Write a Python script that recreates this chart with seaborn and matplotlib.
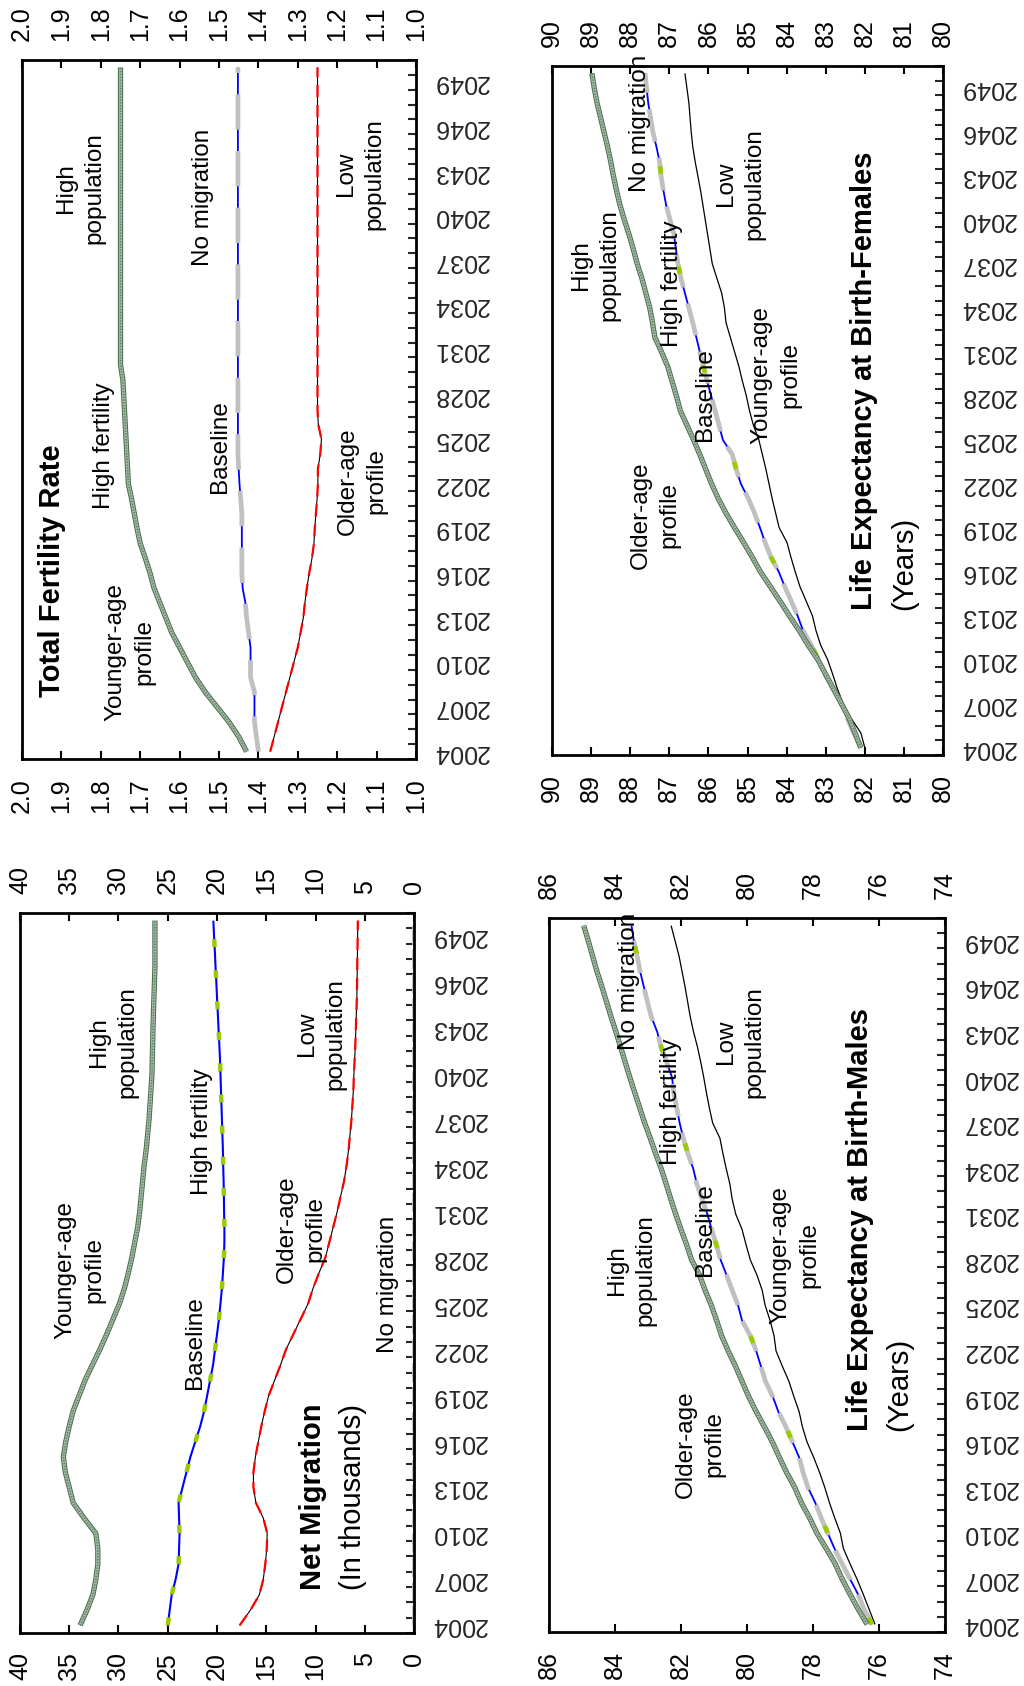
import matplotlib
matplotlib.use("Agg")
import matplotlib.pyplot as plt
import seaborn as sns
from matplotlib import patheffects as pe

# ---------------- data ----------------
YEARS = list(range(2004, 2051))

tfr_high = [1.43, 1.45, 1.475, 1.505, 1.535, 1.56, 1.58, 1.60, 1.62, 1.635, 1.65, 1.665, 1.675,
            1.687, 1.70, 1.708, 1.715, 1.722, 1.73, 1.732, 1.734, 1.736, 1.738, 1.74, 1.742, 1.744] + [1.75] * 21
tfr_base = [1.40, 1.405, 1.41, 1.41, 1.41, 1.42, 1.42, 1.42, 1.425, 1.43, 1.433, 1.44,
            1.442, 1.442, 1.442, 1.442, 1.442, 1.445, 1.448, 1.45] + [1.452] * 27
tfr_low = [1.37, 1.36, 1.35, 1.34, 1.33, 1.32, 1.31, 1.30, 1.293, 1.286, 1.282, 1.277, 1.271,
           1.264, 1.259, 1.257, 1.254, 1.251, 1.249, 1.249, 1.243, 1.24, 1.248] + [1.25] * 24

lef_high = [82.1, 82.25, 82.4, 82.6, 82.8, 83.0, 83.2, 83.45, 83.68, 83.93, 84.17, 84.42, 84.67,
            84.88, 85.1, 85.33, 85.55, 85.75, 85.92, 86.07, 86.22, 86.38, 86.55, 86.72, 86.82,
            86.93, 87.04, 87.2, 87.37, 87.43, 87.5, 87.6, 87.7, 87.82, 87.92, 88.03, 88.15,
            88.26, 88.35, 88.43, 88.5, 88.58, 88.67, 88.76, 88.85, 88.92, 88.98]
lef_base = [82.1, 82.28, 82.45, 82.58, 82.8, 83.02, 83.18, 83.37, 83.58, 83.72, 83.88, 84.05,
            84.2, 84.4, 84.55, 84.68, 84.82, 84.98, 85.17, 85.29, 85.39, 85.63, 85.73, 85.83,
            85.93, 86.03, 86.13, 86.22, 86.31, 86.4, 86.5, 86.6, 86.7, 86.78, 86.83, 86.88,
            86.98, 87.08, 87.15, 87.21, 87.25, 87.33, 87.42, 87.48, 87.54, 87.58, 87.62]
lef_low = [82.0, 82.1, 82.35, 82.55, 82.7, 82.82, 82.95, 83.13, 83.25, 83.34, 83.5, 83.66,
           83.78, 83.89, 83.99, 84.19, 84.28, 84.37, 84.45, 84.53, 84.62, 84.71, 84.85, 84.95,
           85.03, 85.13, 85.22, 85.33, 85.44, 85.55, 85.59, 85.66, 85.78, 85.9, 85.96, 86.02,
           86.08, 86.14, 86.2, 86.27, 86.34, 86.4, 86.44, 86.47, 86.5, 86.55, 86.6]

lem_high = [76.36, 76.63, 76.88, 77.12, 77.33, 77.6, 77.88, 78.1, 78.35, 78.55, 78.8, 79.02,
            79.23, 79.47, 79.72, 79.95, 80.15, 80.35, 80.57, 80.77, 80.92, 81.08, 81.27, 81.44,
            81.68, 81.83, 82.0, 82.16, 82.31, 82.45, 82.6, 82.77, 82.93, 83.1, 83.25, 83.4,
            83.55, 83.69, 83.83, 83.97, 84.12, 84.26, 84.4, 84.55, 84.68, 84.81, 84.95]
lem_base = [76.21, 76.45, 76.64, 76.88, 77.12, 77.35, 77.55, 77.75, 77.93, 78.15, 78.3, 78.42,
            78.62, 78.82, 79.05, 79.22, 79.44, 79.58, 79.72, 79.9, 80.15, 80.27, 80.45, 80.62,
            80.8, 80.93, 81.07, 81.2, 81.36, 81.52, 81.63, 81.79, 81.93, 82.04, 82.13, 82.22,
            82.27, 82.43, 82.6, 82.72, 82.9, 83.02, 83.13, 83.24, 83.33, 83.43, 83.5]
lem_low = [76.12, 76.3, 76.48, 76.67, 76.88, 77.08, 77.17, 77.34, 77.5, 77.64, 77.8, 77.98,
           78.18, 78.32, 78.42, 78.58, 78.73, 78.93, 79.12, 79.18, 79.3, 79.45, 79.54, 79.7,
           79.9, 80.03, 80.15, 80.34, 80.45, 80.52, 80.63, 80.73, 80.82, 81.04, 81.14, 81.23,
           81.31, 81.4, 81.5, 81.62, 81.72, 81.8, 81.88, 81.97, 82.06, 82.18, 82.3]

nm_high = [33.9, 33.2, 32.6, 32.3, 32.1, 32.1, 32.3, 33.5, 34.6, 35.0, 35.4, 35.6, 35.35, 35.0,
           34.6, 34.0, 33.4, 32.65, 31.9, 31.2, 30.55, 29.9, 29.4, 29.0, 28.65, 28.35, 28.05,
           27.85, 27.7, 27.55, 27.4, 27.2, 27.05, 26.9, 26.8, 26.7, 26.6, 26.57, 26.53, 26.5,
           26.45, 26.4, 26.35, 26.3, 26.3, 26.3, 26.3]
nm_base = [25.0, 24.8, 24.6, 24.2, 23.9, 23.85, 23.8, 23.85, 23.9, 23.5, 23.1, 22.7, 22.2, 21.7,
           21.3, 21.0, 20.7, 20.4, 20.2, 20.0, 19.8, 19.65, 19.5, 19.4, 19.3, 19.25, 19.25,
           19.28, 19.3, 19.33, 19.37, 19.4, 19.45, 19.5, 19.55, 19.6, 19.65, 19.7, 19.77, 19.85,
           19.92, 20.0, 20.07, 20.15, 20.22, 20.3, 20.37]
nm_low = [17.7, 16.6, 15.7, 15.3, 15.1, 14.95, 14.9, 15.3, 16.05, 16.3, 16.3, 16.1, 15.8, 15.5,
          15.15, 14.75, 14.15, 13.55, 13.0, 12.25, 11.5, 10.75, 10.25, 9.65, 9.0, 8.6, 8.2, 7.8,
          7.45, 7.1, 6.85, 6.65, 6.5, 6.35, 6.25, 6.15, 6.1, 6.02, 5.95, 5.9, 5.85, 5.8, 5.78,
          5.76, 5.74, 5.72, 5.7]
nm_zero = [0.0] * 47

tfr_ticks = [2.0, 1.9, 1.8, 1.7, 1.6, 1.5, 1.4, 1.3, 1.2, 1.1, 1.0]
lef_ticks = [90, 89, 88, 87, 86, 85, 84, 83, 82, 81, 80]
lem_ticks = [86, 84, 82, 80, 78, 76, 74]
nm_ticks = [40, 35, 30, 25, 20, 15, 10, 5, 0]
year_labels = list(range(2004, 2050, 3))

# ---------------- style ----------------
sns.set_style("white")
plt.rcParams["font.family"] = ["Liberation Sans", "DejaVu Sans"]

W, H = 1024, 1686
fig = plt.figure(figsize=(W / 100, H / 100), dpi=100)


def px_axes(x0, y0, x1, y1):
    return fig.add_axes([x0 / W, 1 - y1 / H, (x1 - x0) / W, (y1 - y0) / H])


GREEN_DARK = "#476b4a"
GREEN_LIGHT = "#a7b9a7"
BLUE = "#0000ff"
GRAY = "#c0c0c0"
YG = "#99cc00"
RED = "#ff0000"


def draw(ax, vals, color, lw, dashes=None, effects=None, z=2):
    sns.lineplot(x=vals, y=YEARS, orient="y", estimator=None, ax=ax, color=color,
                 linewidth=lw, legend=False, zorder=z)
    ln = ax.lines[-1]
    ln.set_solid_capstyle("butt")
    ln.set_dash_capstyle("butt")
    if dashes is not None:
        ln.set_dashes(dashes)
    if effects is not None:
        ln.set_path_effects(effects)
    return ln


def green(ax, vals):
    draw(ax, vals, GREEN_LIGHT, 2.4,
         effects=[pe.Stroke(linewidth=3.8, foreground=GREEN_DARK), pe.Normal()], z=4)
    draw(ax, vals, "#5d7f60", 1.2, dashes=(0.8, 0.9), z=5)


def red_black(ax, vals):
    draw(ax, vals, "black", 0.8, z=3)
    draw(ax, vals, RED, 1.6, dashes=(5.5, 3.5), z=3.1)


def setup(ax, lim, ticks, fmt):
    ax.set_xlim(lim[0], lim[1])
    ax.set_ylim(2003.5, 2050.5)
    ax.set_xticks(ticks)
    ax.set_xticklabels([fmt.format(t) for t in ticks])
    ax.tick_params(axis="x", which="both", direction="in", length=6, width=1.5,
                   top=True, bottom=True, labeltop=True, labelbottom=True,
                   labelrotation=90, labelsize=18, pad=14, colors="black")
    ax.set_yticks(year_labels)
    ax.set_yticklabels([str(y) for y in year_labels], rotation=180, va="center", ha="left")
    ax.set_yticks([y + 0.5 for y in range(2003, 2051)], minor=True)
    ax.tick_params(axis="y", which="major", length=0, right=True, left=False,
                   labelright=True, labelleft=False, labelsize=18, pad=12)
    ax.tick_params(axis="y", which="minor", direction="in", length=5.5, width=1.5,
                   right=True, left=False)
    ax.set_xlabel("")
    ax.set_ylabel("")
    ax.grid(False)
    for s in ax.spines.values():
        s.set_linewidth(2.0)
        s.set_color("black")
        s.set_visible(True)


# ---------------- panels ----------------
ax_tfr = px_axes(22, 60, 416, 759)
green(ax_tfr, tfr_high)
draw(ax_tfr, tfr_base, BLUE, 1.3, z=3)
draw(ax_tfr, tfr_base, GRAY, 3.4, dashes=(7.5, 4.5), z=3.1)
red_black(ax_tfr, tfr_low)
setup(ax_tfr, (2.0, 1.0), tfr_ticks, "{:.1f}")

ax_lef = px_axes(552, 66, 943, 755)
green(ax_lef, lef_high)
draw(ax_lef, lef_low, "black", 0.9, z=3)
draw(ax_lef, lef_base, BLUE, 1.3, z=3)
draw(ax_lef, lef_base, GRAY, 3.4, dashes=(7, 3.5), z=3.1)
draw(ax_lef, lef_base, YG, 3.4, dashes=(1.6, 20), z=3.2)
setup(ax_lef, (90, 80), lef_ticks, "{:d}")

ax_nm = px_axes(20, 913, 414, 1633)
green(ax_nm, nm_high)
draw(ax_nm, nm_base, BLUE, 1.5, z=3)
draw(ax_nm, nm_base, YG, 3.2, dashes=(1.8, 5.2), z=3.1)
red_black(ax_nm, nm_low)
draw(ax_nm, nm_zero, GRAY, 3.5, dashes=(4, 1), z=1)
setup(ax_nm, (40, 0), nm_ticks, "{:d}")

ax_lem = px_axes(549, 918, 945, 1632)
green(ax_lem, lem_high)
draw(ax_lem, lem_low, "black", 0.9, z=3)
draw(ax_lem, lem_base, BLUE, 1.3, z=3)
draw(ax_lem, lem_base, GRAY, 3.4, dashes=(7, 3.5), z=3.1)
draw(ax_lem, lem_base, YG, 3.4, dashes=(1.6, 20), z=3.2)
setup(ax_lem, (86, 74), lem_ticks, "{:d}")

# ---------------- annotations ----------------
ANN = 17.5


def label(x, y, s, size=ANN, weight="normal", va="center"):
    fig.text(x / W, 1 - y / H, s, rotation=90, ha="center", va=va, multialignment="center",
             fontsize=size, fontweight=weight, linespacing=1.4, color="black")


# TFR
label(130, 652, "Younger-age\nprofile")
label(104, 446, "High fertility")
label(80, 188, "High\npopulation")
label(220, 447, "Baseline")
label(203, 197, "No migration")
label(362, 481, "Older-age\nprofile")
label(360, 174, "Low\npopulation")
label(52, 571, "Total Fertility Rate", size=21, weight="bold")

# LE females
label(595, 265, "High\npopulation")
label(640, 123, "No migration")
label(672, 284, "High fertility")
label(705, 395, "Baseline")
label(776, 375, "Younger-age\nprofile")
label(740, 184, "Low\npopulation")
label(655, 515, "Older-age\nprofile")
label(864, 610, "Life Expectancy at Birth-Females", size=21, weight="bold", va="bottom")
label(904, 610, "(Years)", size=21, va="bottom")

# Net migration
label(80, 1270, "Younger-age\nprofile")
label(113, 1042, "High\npopulation")
label(202, 1132, "High fertility")
label(195, 1343, "Baseline")
label(301, 1229, "Older-age\nprofile")
label(321, 1034, "Low\npopulation")
label(388, 1284, "No migration")
label(313, 1497, "Net Migration", size=21, weight="bold")
label(353, 1497, "(In thousands)", size=21)

# LE males
label(631, 1270, "High\npopulation")
label(629, 981, "No migration")
label(671, 1102, "High fertility")
label(705, 1230, "Baseline")
label(795, 1255, "Younger-age\nprofile")
label(740, 1042, "Low\npopulation")
label(700, 1444, "Older-age\nprofile")
label(860, 1431, "Life Expectancy at Birth-Males", size=21, weight="bold", va="bottom")
label(899, 1431, "(Years)", size=21, va="bottom")

fig.savefig("out.png", dpi=100, facecolor="white")
